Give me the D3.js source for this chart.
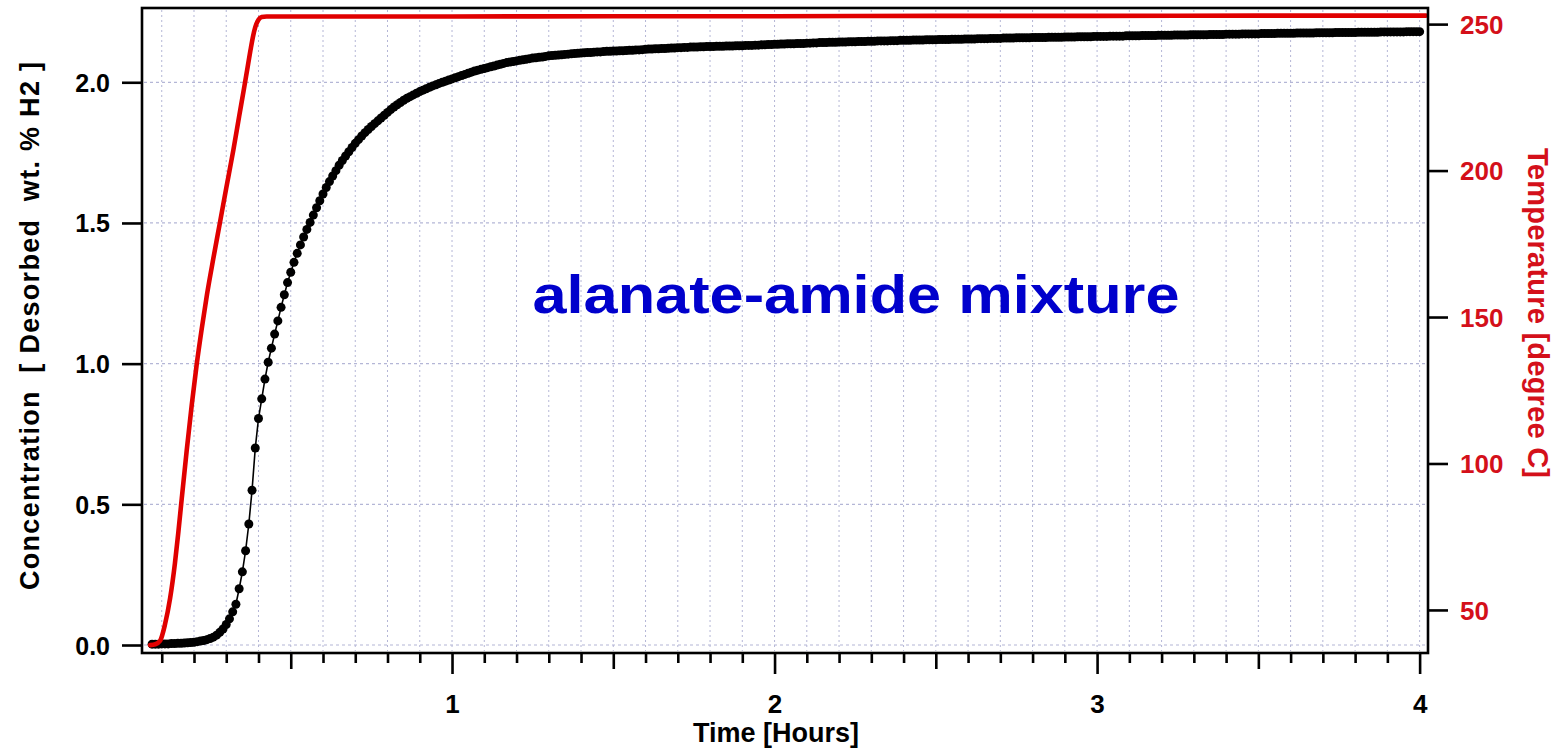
<!DOCTYPE html>
<html>
<head>
<meta charset="utf-8">
<script src="https://cdn.jsdelivr.net/npm/d3@7"></script>
<style>
  html, body { margin: 0; padding: 0; background: #ffffff; }
  svg { display: block; }
  text { font-family: "Liberation Sans", Arial, sans-serif; font-weight: bold; }
</style>
</head>
<body>
<svg id="chart" width="1557" height="749"></svg>
<script>
// ---- Data ----------------------------------------------------------------
// Hydrogen desorbed (wt. % H2), logged every 0.01 h starting at 0.07 h.
const desorbStartHours = 0.07;
const desorbStepHours = 0.01;
const desorbedWtPct = [
  0.003,0.003,0.003,
  0.004,0.004,0.004,0.005,0.005,0.006,0.006,0.007,0.008,0.009,
  0.010,0.012,0.014,0.016,0.019,0.023,0.028,0.035,0.045,0.057,
  0.073,0.093,0.118,0.145,0.200,0.260,0.335,0.430,0.550,0.700,
  0.805,0.875,0.945,1.005,1.055,1.105,1.152,1.200,1.245,1.288,
  1.325,1.360,1.392,1.422,1.450,1.477,1.502,1.528,1.554,1.579,
  1.603,1.626,1.647,1.667,1.686,1.705,1.722,1.738,1.753,1.768,
  1.783,1.796,1.809,1.821,1.832,1.843,1.853,1.863,1.873,1.883,
  1.893,1.903,1.912,1.920,1.928,1.936,1.943,1.949,1.955,1.961,
  1.967,1.972,1.977,1.982,1.987,1.991,1.996,2.000,2.004,2.008,
  2.012,2.016,2.020,2.024,2.028,2.032,2.036,2.040,2.043,2.046,
  2.049,2.052,2.055,2.058,2.061,2.064,2.067,2.070,2.072,2.074,
  2.076,2.078,2.080,2.082,2.084,2.086,2.087,2.089,2.090,2.092,
  2.094,2.095,2.096,2.097,2.098,2.099,2.100,2.101,2.102,2.103,
  2.104,2.105,2.106,2.106,2.107,2.108,2.108,2.109,2.110,2.110,
  2.111,2.111,2.112,2.112,2.113,2.114,2.114,2.115,2.115,2.116,
  2.117,2.118,2.118,2.119,2.119,2.120,2.120,2.121,2.122,2.122,
  2.123,2.123,2.124,2.124,2.125,2.125,2.125,2.126,2.126,2.127,
  2.127,2.127,2.128,2.128,2.128,2.129,2.129,2.129,2.130,2.130,
  2.130,2.131,2.131,2.131,2.132,2.132,2.133,2.133,2.134,2.134,
  2.135,2.135,2.136,2.136,2.137,2.137,2.137,2.138,2.138,2.138,
  2.139,2.139,2.140,2.140,2.141,2.141,2.141,2.142,2.142,2.142,
  2.143,2.143,2.143,2.144,2.144,2.144,2.145,2.145,2.145,2.146,
  2.146,2.146,2.147,2.147,2.147,2.147,2.148,2.148,2.148,2.149,
  2.149,2.149,2.149,2.150,2.150,2.150,2.150,2.151,2.151,2.151,
  2.151,2.152,2.152,2.152,2.152,2.153,2.153,2.153,2.153,2.154,
  2.154,2.154,2.154,2.155,2.155,2.155,2.155,2.156,2.156,2.156,
  2.156,2.157,2.157,2.157,2.157,2.158,2.158,2.158,2.158,2.158,
  2.159,2.159,2.159,2.159,2.159,2.160,2.160,2.160,2.160,2.160,
  2.161,2.161,2.161,2.161,2.162,2.162,2.162,2.162,2.162,2.163,
  2.163,2.163,2.163,2.163,2.164,2.164,2.164,2.164,2.164,2.165,
  2.165,2.165,2.165,2.165,2.166,2.166,2.166,2.166,2.166,2.167,
  2.167,2.167,2.167,2.167,2.168,2.168,2.168,2.168,2.168,2.169,
  2.169,2.169,2.169,2.169,2.169,2.170,2.170,2.170,2.170,2.170,
  2.171,2.171,2.171,2.171,2.171,2.172,2.172,2.172,2.172,2.172,
  2.172,2.173,2.173,2.173,2.173,2.173,2.174,2.174,2.174,2.174,
  2.174,2.174,2.175,2.175,2.175,2.175,2.175,2.175,2.176,2.176,
  2.176,2.176,2.176,2.176,2.177,2.177,2.177,2.177,2.177,2.177,
  2.177,2.178,2.178,2.178,2.178,2.178,2.178,2.178,2.179,2.179,
  2.179,2.179,2.179,2.179,2.179,2.179,2.180,2.180,2.180,2.180,
  2.180
];

// Sample temperature (degree C) against time (hours).
const tempHours = [0.064, 0.080, 0.095, 0.110, 0.126, 0.141, 0.151, 0.162, 0.177, 0.193,
                   0.208, 0.224, 0.240, 0.260, 0.280, 0.300, 0.322, 0.340, 0.355, 0.365,
                   0.375, 0.383, 0.390, 0.400, 0.410, 0.425, 0.500, 1.000, 1.500, 2.000,
                   2.500, 3.000, 3.500, 4.020];
const tempDegC  = [38.0, 38.3, 39.5, 45.0, 54.0, 66.0, 76.0, 88.0, 104.0, 120.0,
                   133.5, 146.0, 157.5, 170.0, 182.0, 194.0, 207.0, 218.5, 228.0, 234.5,
                   241.0, 245.8, 249.0, 251.5, 252.4, 252.6, 252.6, 252.6, 252.7, 252.7,
                   252.8, 252.8, 252.9, 252.9];

// Axis ticks and labels.
const concTicks = [0, 0.5, 1.0, 1.5, 2.0];
const tempTicks = [50, 100, 150, 200, 250];
const hourLabels = [1, 2, 3, 4];
const hourTickStep = 0.1;

const xTitle = "Time [Hours]";
const yLeftTitle = "Concentration  [ Desorbed  wt. % H2 ]";
const yRightTitle = "Temperature [degree C]";
const annotation = "alanate-amide mixture";

// ---- Layout --------------------------------------------------------------
const frame = { left: 142, right: 1428, top: 8, bottom: 653 };
const red = "#e00000";
const redText = "#d4101a";
const gridColor = "#b4b6d6";

const svg = d3.select("#chart");

const x = d3.scaleLinear().domain([0.0388, 4.026]).range([frame.left, frame.right]);
const yL = d3.scaleLinear().domain([-0.0284, 2.264]).range([frame.bottom, frame.top]);
const yR = d3.scaleLinear().domain([35.3, 255.5]).range([frame.bottom, frame.top]);

const hourTicks = d3.range(1, 41).map(i => +(i * hourTickStep).toFixed(1));

// ---- Grid ----------------------------------------------------------------
const grid = svg.append("g");
grid.selectAll("line.v").data(hourTicks).join("line")
  .attr("x1", d => x(d)).attr("x2", d => x(d))
  .attr("y1", frame.top + 2).attr("y2", frame.bottom - 2)
  .attr("stroke", gridColor).attr("stroke-width", 1)
  .attr("stroke-dasharray", "2,3");
grid.selectAll("line.h").data(concTicks).join("line")
  .attr("x1", frame.left + 2).attr("x2", frame.right - 2)
  .attr("y1", d => yL(d)).attr("y2", d => yL(d))
  .attr("stroke", gridColor).attr("stroke-width", 1.2)
  .attr("stroke-dasharray", "3,3");

// ---- Desorption series: dots joined by a thin line -----------------------
const desorb = desorbedWtPct.map((v, i) => ({ t: desorbStartHours + i * desorbStepHours, v }));

svg.append("path")
  .datum(desorb)
  .attr("fill", "none")
  .attr("stroke", "#000")
  .attr("stroke-width", 1.6)
  .attr("d", d3.line().x(d => x(d.t)).y(d => yL(d.v)));

svg.append("g").selectAll("circle").data(desorb).join("circle")
  .attr("cx", d => x(d.t))
  .attr("cy", d => yL(d.v))
  .attr("r", 4.5)
  .attr("fill", "#000");

// ---- Temperature series --------------------------------------------------
const temp = tempHours.map((t, i) => ({ t, c: tempDegC[i] }));
svg.append("path")
  .datum(temp)
  .attr("fill", "none")
  .attr("stroke", red)
  .attr("stroke-width", 4.6)
  .attr("stroke-linejoin", "round")
  .attr("stroke-linecap", "round")
  .attr("d", d3.line().x(d => x(d.t)).y(d => yR(d.c)).curve(d3.curveMonotoneX));

// ---- Frame ---------------------------------------------------------------
svg.append("rect")
  .attr("x", frame.left).attr("y", frame.top)
  .attr("width", frame.right - frame.left)
  .attr("height", frame.bottom - frame.top)
  .attr("fill", "none").attr("stroke", "#000").attr("stroke-width", 2.6);

// ---- Axes ----------------------------------------------------------------
const leftAxis = svg.append("g")
  .attr("transform", `translate(${frame.left},0)`)
  .call(d3.axisLeft(yL).tickValues(concTicks).tickFormat(d3.format(".1f"))
        .tickSize(20).tickPadding(12));
leftAxis.select(".domain").remove();
leftAxis.selectAll(".tick line").attr("stroke", "#000").attr("stroke-width", 2.6);
leftAxis.selectAll(".tick text")
  .attr("fill", "#000").attr("font-size", 25).attr("dy", "0.36em")
  .style("font-family", "'Liberation Sans', Arial, sans-serif").style("font-weight", "bold");

const rightAxis = svg.append("g")
  .attr("transform", `translate(${frame.right},0)`)
  .call(d3.axisRight(yR).tickValues(tempTicks).tickFormat(d3.format("d"))
        .tickSize(20).tickPadding(12));
rightAxis.select(".domain").remove();
rightAxis.selectAll(".tick line").attr("stroke", "#000").attr("stroke-width", 2.6);
rightAxis.selectAll(".tick text")
  .attr("fill", redText).attr("font-size", 26).attr("dy", "0.36em")
  .style("font-family", "'Liberation Sans', Arial, sans-serif").style("font-weight", "bold");

const bottomAxis = svg.append("g")
  .attr("transform", `translate(0,${frame.bottom})`)
  .call(d3.axisBottom(x).tickValues(hourTicks)
        .tickFormat(d => hourLabels.includes(d) ? String(d) : "")
        .tickSize(10));
bottomAxis.select(".domain").remove();
bottomAxis.selectAll(".tick line")
  .attr("stroke", "#000").attr("stroke-width", 2.6)
  .attr("y2", d => Number.isInteger(d) ? 21 : (Math.abs(d % 1 - 0.5) < 1e-6 ? 16 : 10));
bottomAxis.selectAll(".tick text")
  .attr("fill", "#000").attr("font-size", 26)
  .attr("y", 60).attr("dy", 0)
  .style("font-family", "'Liberation Sans', Arial, sans-serif").style("font-weight", "bold");

// ---- Titles --------------------------------------------------------------
svg.append("text")
  .attr("x", 776).attr("y", 742)
  .attr("text-anchor", "middle")
  .attr("font-size", 27)
  .attr("fill", "#000")
  .text(xTitle);

svg.append("text")
  .attr("transform", "translate(39,326) rotate(-90)")
  .attr("text-anchor", "middle")
  .attr("font-size", 27)
  .attr("textLength", 528)
  .attr("lengthAdjust", "spacing")
  .attr("fill", "#000")
  .style("white-space", "pre")
  .text(yLeftTitle);

svg.append("text")
  .attr("transform", "translate(1528,313) rotate(90)")
  .attr("text-anchor", "middle")
  .attr("font-size", 29)
  .attr("textLength", 330)
  .attr("lengthAdjust", "spacing")
  .attr("fill", redText)
  .text(yRightTitle);

// ---- Annotation ----------------------------------------------------------
svg.append("text")
  .attr("x", 856).attr("y", 313)
  .attr("text-anchor", "middle")
  .attr("font-size", 54)
  .attr("textLength", 647)
  .attr("lengthAdjust", "spacingAndGlyphs")
  .attr("fill", "#0000cc")
  .text(annotation);
</script>
</body>
</html>
